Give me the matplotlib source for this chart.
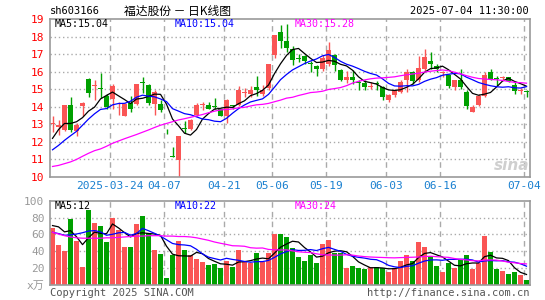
import numpy as np
import pandas as pd
import matplotlib
matplotlib.use('Agg')
from matplotlib import pyplot as plt

#chart data
date_labels = ['2025-03-24', '04-07', '04-21', '05-06', '05-19', '06-03', '06-16', '07-04']
date_idx = [10, 19, 29, 37, 46, 56, 65, 79]

opens = [13.00, 12.85, 12.65, 14.10, 12.62, 14.05, 15.60, 15.18, 15.08, 14.64,
         14.45, 13.68, 13.50, 14.20, 14.17, 15.42, 15.25, 14.17, 14.17, 12.52,
         11.20, 10.95, 12.78, 12.75, 13.55, 14.08, 14.08, 14.06, 13.85, 13.47,
         14.10, 14.11, 14.78, 14.74, 15.10, 14.74, 15.06, 16.95, 18.25, 17.77,
         17.30, 16.80, 16.92, 16.47, 16.35, 16.16, 16.45, 16.95, 16.10, 15.50,
         15.72, 15.38, 15.36, 15.15, 15.32, 15.12, 14.40, 14.68, 14.87, 15.50,
         15.97, 15.50, 16.16, 16.63, 16.35, 15.92, 15.82, 15.12, 15.50, 14.87,
         13.73, 14.11, 14.64, 15.97, 15.65, 15.63, 15.68, 15.25, 14.90, 14.90]
highs = [13.45, 13.25, 14.10, 14.58, 13.10, 14.25, 15.62, 15.50, 15.90, 14.74,
         15.30, 14.30, 14.20, 14.60, 15.30, 15.70, 15.30, 14.95, 14.36, 12.75,
         11.70, 12.35, 13.20, 13.30, 14.20, 14.25, 14.30, 14.52, 13.90, 14.45,
         14.12, 15.17, 15.05, 15.17, 15.78, 15.25, 16.44, 18.10, 18.65, 18.70,
         17.48, 17.00, 16.95, 16.63, 16.40, 16.95, 17.67, 17.00, 16.15, 16.05,
         16.10, 15.50, 15.50, 15.40, 15.45, 15.20, 14.70, 15.02, 15.50, 16.16,
         16.06, 16.88, 17.30, 17.10, 16.44, 16.06, 15.88, 15.55, 16.16, 14.93,
         14.08, 14.74, 15.97, 16.16, 15.78, 15.78, 15.72, 15.40, 15.06, 14.98]
lows = [12.55, 12.40, 12.60, 12.58, 12.35, 13.50, 14.55, 14.40, 14.50, 13.85,
        13.90, 13.55, 13.45, 13.70, 14.10, 14.80, 14.10, 13.56, 13.73, 12.45,
        11.15, 10.00, 12.52, 12.65, 13.48, 13.80, 13.85, 13.85, 13.45, 13.10,
        13.90, 14.07, 14.55, 14.55, 14.64, 14.64, 14.93, 16.77, 17.35, 17.10,
        16.39, 16.54, 16.45, 16.00, 15.78, 16.05, 16.30, 16.05, 15.45, 15.38,
        15.30, 14.93, 14.93, 15.00, 14.98, 14.40, 14.30, 14.55, 14.80, 14.83,
        15.30, 15.40, 16.06, 16.16, 16.00, 15.68, 15.05, 14.93, 15.00, 13.89,
        13.70, 14.07, 14.55, 15.50, 15.17, 15.50, 15.40, 14.75, 14.74, 14.55]
closes = [13.05, 12.95, 14.08, 12.68, 12.98, 14.22, 14.80, 15.22, 15.02, 13.98,
          15.17, 13.72, 14.17, 13.87, 15.28, 15.38, 14.23, 14.85, 13.80, 12.48,
          11.15, 12.32, 12.72, 13.26, 14.08, 14.12, 13.87, 14.00, 13.50, 14.40,
          14.05, 14.93, 14.82, 14.98, 14.98, 14.98, 16.44, 18.08, 17.77, 17.36,
          16.65, 16.75, 16.63, 16.42, 16.16, 16.77, 17.22, 16.40, 15.55, 15.70,
          15.55, 15.34, 15.10, 15.19, 15.28, 14.58, 14.66, 14.93, 15.40, 15.97,
          15.44, 16.20, 16.82, 16.44, 16.16, 15.95, 15.18, 15.50, 15.12, 14.04,
          13.98, 14.64, 15.82, 15.59, 15.60, 15.67, 15.45, 14.92, 14.96, 14.85]
volumes = [67.5, 48, 40, 78, 52.5, 21, 89, 73, 70.5, 50.5,
           79, 65.5, 45, 45, 72, 82, 61.5, 42, 36.5, 8,
           35, 52, 41, 35, 30.5, 27, 23.5, 24.7, 20, 28,
           21.5, 42, 27, 26, 37.6, 27, 37.6, 61, 61, 56.5,
           43.5, 33, 28, 35, 26, 49, 53, 37.6, 37.6, 20,
           22, 20, 19, 21, 21, 20, 15, 20, 29, 35,
           28, 50.5, 44.7, 34, 22, 15, 26, 20, 30.5, 35,
           19, 26, 57.6, 39, 19, 16.5, 12.5, 15.5, 11.5, 6.5]

#start of the moving averages, the earlier days are not on the chart
ma5_head = [12.2, 12.7, 13.05, 13.05]
ma10_head = [11.55, 11.8, 12.09, 12.35, 12.6, 12.95, 13.3, 13.6, 13.85]
ma30_head = [10.6, 10.66, 10.76, 10.86, 11.0, 11.18, 11.35, 11.5, 11.6, 11.75,
             11.92, 12.05, 12.18, 12.3, 12.42, 12.55, 12.68, 12.82, 12.95, 13.05,
             13.15, 13.25, 13.32, 13.4, 13.48, 13.56, 13.66, 13.75, 13.82]
vma5_head = [70.5, 69, 63, 64.5]
vma10_head = [62.5, 61, 59, 59.5, 60.5, 62, 64, 64.5, 63]
vma30_head = [62.5, 60.5, 58.5, 57, 56, 55.5, 55.5, 55.5, 55.5, 56,
              56, 56.5, 57, 57.5, 58, 58, 58.5, 58.5, 58.5, 58,
              58, 57.5, 57.5, 57, 56, 54.5, 53, 51, 49.5]

ma_labels = ['MA5:15.04', 'MA10:15.04', 'MA30:15.28']
vma_labels = ['MA5:12', 'MA10:22', 'MA30:24']

RED = '#fa5555'
GREEN = '#00a000'
GRID = '#aaaaaa'
MA_COLORS = ['black', '#0000ff', '#ff00ff']
MONO = ['DejaVu Sans Mono', 'Noto Sans CJK SC']

W, H = 545, 300


def moving_avg(values, n, head):
    s = pd.Series(values, dtype=float).rolling(n).mean()
    s.iloc[:len(head)] = head
    return s.values


def px(x, y):
    return x / W, 1 - y / H


x = np.arange(len(closes))
o = np.array(opens)
c = np.array(closes)
up = c >= o
colors = [RED if u else GREEN for u in up]

fig = plt.figure(figsize=(W / 100, H / 100), dpi=100)

#price panel
ax = fig.add_axes([50 / W, 1 - 177 / H, 479.5 / W, 158 / H])
ax.vlines(x, lows, highs, colors=colors, lw=1)
body = np.maximum(np.abs(c - o), 0.05)
ax.bar(x, body, bottom=np.minimum(o, c), width=0.82, color=colors, lw=0)

for n, head, col in zip([5, 10, 30], [ma5_head, ma10_head, ma30_head], MA_COLORS):
    ax.plot(x, moving_avg(closes, n, head), color=col, lw=0.9)

ax.set_xlim(-0.42, 79.5)
ax.set_ylim(10, 19)
for yv in range(11, 19):
    ax.axhline(yv, color=GRID, lw=1, ls=(0, (1, 2)), zorder=0)
for d in date_idx:
    ax.axvline(d - 0.42, color=GRID, lw=1, ls=(0, (4, 3)), zorder=0)
ax.set_yticks(range(10, 20))
ax.set_yticklabels([str(v) for v in range(10, 20)], family=MONO, fontsize=8)
ax.tick_params(axis='y', length=0, pad=4, colors='red')
ax.set_xticks([d - 0.42 for d in date_idx])
ax.set_xticklabels(date_labels, family=MONO, fontsize=8, color='#1a80d0')
ax.tick_params(axis='x', length=0, pad=3)
for s in ax.spines.values():
    s.set_color('#999999')
    s.set_linewidth(1.2)

#volume panel
vax = fig.add_axes([50 / W, 1 - 285 / H, 479.5 / W, 84.3 / H])
vax.bar(x, volumes, width=0.83, color=colors, lw=0)
for n, head, col in zip([5, 10, 30], [vma5_head, vma10_head, vma30_head], MA_COLORS):
    vax.plot(x, moving_avg(volumes, n, head), color=col, lw=0.9)
vax.set_xlim(-0.42, 79.5)
vax.set_ylim(0, 100)
for yv in range(20, 100, 20):
    vax.axhline(yv, color=GRID, lw=1, ls=(0, (1, 2)), zorder=0)
for d in date_idx:
    vax.axvline(d - 0.42, color=GRID, lw=1, ls=(0, (4, 3)), zorder=0)
vax.set_xticks([])
vax.set_yticks(range(0, 101, 20))
vax.set_yticklabels(['x万'] + [str(v) for v in range(20, 101, 20)], family=MONO, fontsize=8)
vax.tick_params(axis='y', length=0, pad=4, colors='#999999')
for s in vax.spines.values():
    s.set_color('#999999')
    s.set_linewidth(1.2)

#texts
for lab, col, xp in zip(ma_labels, MA_COLORS, [55, 175, 295]):
    fig.text(*px(xp, 24), lab, color=col, family=MONO, fontsize=7.2, va='center')
for lab, col, xp in zip(vma_labels, MA_COLORS, [55, 175, 295]):
    fig.text(*px(xp, 206), lab, color=col, family=MONO, fontsize=7.2, va='center')

fig.text(*px(50, 11), 'sh603166', family=MONO, fontsize=7.5, va='center')
fig.text(*px(178, 11), '福达股份 － 日K线图', family=['Noto Sans CJK SC', 'DejaVu Sans'],
         fontsize=8.5, va='center', ha='center')
fig.text(*px(529, 11), '2025-07-04 11:30:00', family=MONO, fontsize=7.5, va='center', ha='right')
fig.text(*px(50, 293), 'Copyright 2025 SINA.COM', family=MONO, fontsize=7.5, va='center',
         color='#555555')
fig.text(*px(529, 293), 'http://finance.sina.com.cn', family=MONO, fontsize=7.5, va='center',
         ha='right', color='#555555')
fig.text(*px(512, 165), 'sina', fontsize=11, style='italic', weight='bold', color='#cfcfcf',
         ha='center', va='center')

fig.savefig('out.png', dpi=100)
